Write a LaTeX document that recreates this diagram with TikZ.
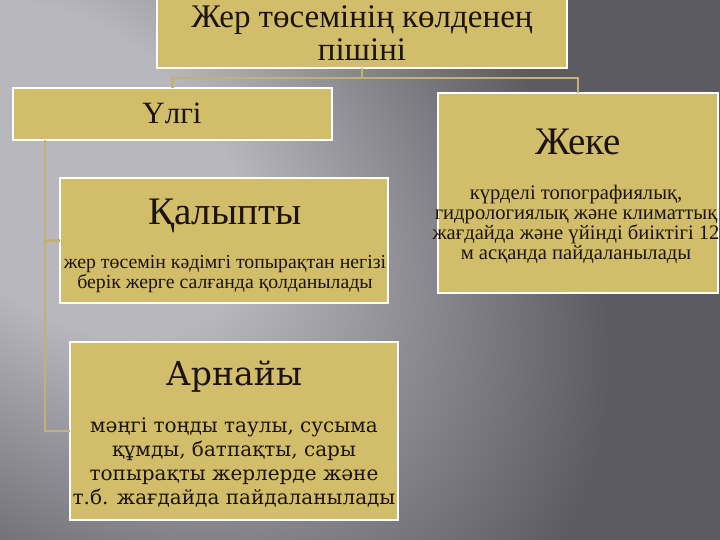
\documentclass[tikz,border=0pt]{standalone}
\usepackage{fontspec}
\setmainfont{Liberation Serif}
\newfontfamily\arnfont{DejaVu Serif}
\usetikzlibrary{positioning}

\definecolor{bglight}{RGB}{184,183,190}
\definecolor{bgdark}{RGB}{92,91,98}
\definecolor{boxfill}{RGB}{210,189,106}
\definecolor{linktan}{RGB}{196,176,112}
\definecolor{inkdark}{RGB}{28,20,10}

\pgfdeclareradialshading{bgglow}{\pgfpoint{0bp}{0bp}}{color(0bp)=(bglight); color(8bp)=(bglight); color(25bp)=(bgdark); color(50bp)=(bgdark)}

\begin{document}
\begin{tikzpicture}[x=1pt, y=-1pt,
  box/.style={draw=white, line width=1.6pt, fill=boxfill, inner sep=0pt, outer sep=0pt},
  link/.style={draw=linktan, line width=2.6pt},
  title/.style={text=inkdark, align=center, inner sep=0pt},
  body/.style={text=inkdark, align=center, inner sep=0pt}]

% Background
\useasboundingbox (0,0) rectangle (720,540);
\fill[bgdark] (0,0) rectangle (720,540);
\begin{scope}
\clip (0,0) rectangle (720,540);
\begin{scope}[transform canvas={rotate around={-42:(70,170)}}]
\shade[shading=bgglow] (70,170) ellipse (620 and 420);
\end{scope}
\end{scope}

% Boxes
\node[box, minimum width=410, minimum height=70] (root) at (362,33) {};
\node[box, minimum width=319, minimum height=52] (ulgi) at (172.5,114) {};
\node[box, minimum width=328, minimum height=125] (kalypty) at (224,240.5) {};
\node[box, minimum width=328, minimum height=178] (arnayy) at (234,431) {};
\node[box, minimum width=280, minimum height=200] (zheke) at (578,193) {};

% Connectors
\draw[link] (root.south) -- ++(0,10) -| (ulgi.north);
\draw[link] (root.south) -- ++(0,10) -| (zheke.north);
\draw[link] ([xshift=32pt]ulgi.south west) |- (kalypty.west);
\draw[link] ([xshift=32pt]ulgi.south west) |- (arnayy.west);

% Texts
\node[title, font=\fontsize{33}{33}\selectfont] (roottxt) at (362,33) {Жер төсемінің көлденең\\пішіні};
\node[title, font=\fontsize{31}{33}\selectfont] (ulgitxt) at (172,113) {Үлгі};
\node[title, font=\fontsize{39}{40}\selectfont, anchor=base] (kalyptytitle) at (225,225) {Қалыпты};
\node[body, font=\fontsize{19.8}{19.5}\selectfont] (kalyptytxt) at (225,274) {жер төсемін кәдімгі топырақтан негізі\\берік жерге салғанда қолданылады};
\node[title, font=\fontsize{39}{40}\selectfont, anchor=base] (zheketitle) at (578,155) {Жеке};
\node[body, font=\fontsize{20.6}{20}\selectfont] (zheketxt) at (576,224) {күрделі топографиялық,\\гидрологиялық және климаттық\\жағдайда және үйінді биіктігі 12\\м асқанда пайдаланылады};
\node[title, font=\arnfont\fontsize{33}{34}\selectfont, anchor=base] (arnayytitle) at (234,385) {Арнайы};
\node[body, font=\arnfont\fontsize{20}{24}\selectfont] (arnayytxt) at (234,463) {мәңгі тоңды таулы, сусыма\\құмды, батпақты, сары\\топырақты жерлерде және\\т.б. жағдайда пайдаланылады};

\end{tikzpicture}
\end{document}
